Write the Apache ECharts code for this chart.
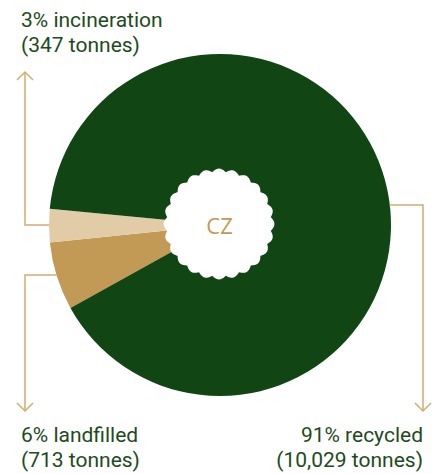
<!DOCTYPE html>
<html><head><meta charset="utf-8">
<script src="https://cdn.jsdelivr.net/npm/echarts@6/dist/echarts.min.js"></script>
<style>html,body{margin:0;padding:0;background:#fff}#c{width:441px;height:474px}</style>
</head><body><div id="c"></div>
<script>
// Data
var categories = ['landfilled', 'incineration', 'recycled'];
var tonnes = [713, 347, 10029];
var percents = [6, 3, 91];
var centerLabel = 'CZ';

var colors = { landfilled: '#c29a55', incineration: '#e2cca8', recycled: '#114614' };
var textColor = '#1d4b20';
var lineColor = '#d2ad70';
var FONT = 'Roboto, sans-serif';

var cx = 220, cy = 225, R = 171;
var chart = echarts.init(document.getElementById('c'), null, { renderer: 'svg' });

function fmt(n) { return n.toLocaleString('en-US'); }

// scalloped hole (rounded bumps)
var pts = [];
var N = 960, bumps = 24, hr = 52.2, amp = 3.2;
for (var i = 0; i < N; i++) {
  var t = i / N * Math.PI * 2;
  var r = hr + amp * Math.abs(Math.sin(bumps / 2 * t + Math.PI / 2));
  pts.push([cx - 1 + r * Math.cos(t), cy - 1 + r * Math.sin(t)]);
}

// leader lines
function edgeX(y, side) { return cx + side * Math.sqrt(R * R - (y - cy) * (y - cy)); }
var leaders = [
  { name: 'incineration', x: 25, y: 225, side: -1, tipY: 72, dir: -1 },
  { name: 'landfilled', x: 25, y: 275, side: -1, tipY: 411, dir: 1 },
  { name: 'recycled', x: 423, y: 205, side: 1, tipY: 411, dir: 1 }
];
var graphics = [];
graphics.push({ type: 'polygon', shape: { points: pts }, style: { fill: '#fff' }, z: 10 });
graphics.push({ type: 'text', x: cx - 0.5, y: cy, z: 11,
  style: { text: centerLabel, fill: '#c29a55', font: '22px "Open Sans", sans-serif', textAlign: 'center', textVerticalAlign: 'middle' } });
leaders.forEach(function (l) {
  var ex = edgeX(l.y, l.side);
  graphics.push({ type: 'polyline', z: 5,
    shape: { points: [[ex, l.y], [l.x, l.y], [l.x, l.tipY]] },
    style: { stroke: lineColor, lineWidth: 1.5, fill: null } });
  graphics.push({ type: 'polyline', z: 5,
    shape: { points: [[l.x - 8, l.tipY - l.dir * 8], [l.x, l.tipY], [l.x + 8, l.tipY - l.dir * 8]] },
    style: { stroke: lineColor, lineWidth: 1.5, fill: null } });
});
// labels (line centres)
var labelPos = {
  incineration: { x: 21, y: 20, align: 'left' },
  landfilled: { x: 21, y: 435, align: 'left' },
  recycled: { x: 423, y: 435, align: 'right' }
};
categories.forEach(function (c, i) {
  var p = labelPos[c];
  var lines = [percents[i] + '% ' + c, '(' + fmt(tonnes[i]) + ' tonnes)'];
  lines.forEach(function (s, k) {
    graphics.push({ type: 'text', x: p.x, y: p.y + k * 25, z: 12,
      style: { text: s, fill: textColor, font: '21px ' + FONT, lineHeight: 23,
        textAlign: p.align, textVerticalAlign: 'middle' } });
  });
});

chart.setOption({
  animation: false,
  series: [{
    type: 'pie',
    center: [cx, cy],
    radius: [0, R],
    startAngle: 209,
    clockwise: true,
    label: { show: false },
    labelLine: { show: false },
    emphasis: { disabled: true },
    itemStyle: { borderWidth: 0 },
    data: categories.map(function (c, i) { return { name: c, value: tonnes[i], itemStyle: { color: colors[c] } }; })
  }],
  graphic: graphics
});
</script></body></html>
